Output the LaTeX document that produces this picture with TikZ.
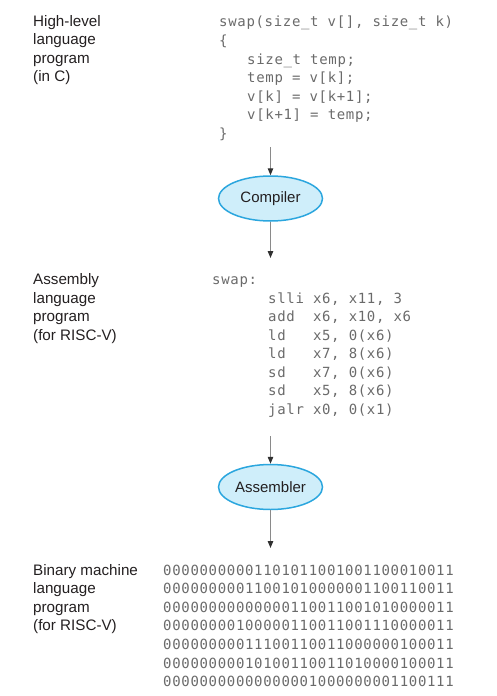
\documentclass[tikz,border=0pt]{standalone}
\usepackage{fontspec}
\setmainfont{Liberation Sans}
\newfontfamily\codefont[LetterSpace=4.8]{DejaVu Sans Mono}
\usetikzlibrary{arrows.meta,shapes.geometric}
\definecolor{inkdark}{HTML}{231F20}
\definecolor{codegray}{HTML}{6A6A6A}
\definecolor{shaftgray}{HTML}{8A8A8A}
\definecolor{tipgray}{HTML}{303030}
\definecolor{stagefill}{HTML}{CFEEFA}
\definecolor{stageline}{HTML}{2BA6DE}
\begin{document}
\begin{tikzpicture}[x=1pt,y=-1pt,
  lbl/.style={anchor=base west, inner sep=0pt, font=\fontsize{15.2}{18.6}\selectfont, text=inkdark},
  code/.style={anchor=base west, inner sep=0pt, font=\codefont\fontsize{14}{18.5}\selectfont, text=codegray},
  stage/.style={ellipse, draw=stageline, fill=stagefill, line width=1.5pt,
    minimum width=104pt, minimum height=45pt, inner sep=0pt,
    font=\fontsize{15}{18}\selectfont, text=inkdark},
  flow/.style={draw=shaftgray, line width=1.1pt,
    -{Triangle[length=7pt,width=5.5pt,color=tipgray]}}]
\useasboundingbox (0,0) rectangle (497,696);

% --- left-hand descriptions
\foreach \t [count=\i from 0] in {High-level,language,program,(in C)}
  \node[lbl] (hl\i) at (33,26+18.6*\i) {\t};
\foreach \t [count=\i from 0] in {Assembly,language,program,(for RISC-V)}
  \node[lbl] (al\i) at (33,284.5+18.6*\i) {\t};
\foreach \t [count=\i from 0] in {Binary machine,language,program,(for RISC-V)}
  \node[lbl] (bl\i) at (33,575+18.6*\i) {\t};

% --- C source
\foreach \t/\dx [count=\i from 0] in {
    {swap(size\_t v[], size\_t k)}/0,
    {\{}/0,
    {size\_t temp;}/28,
    {temp = v[k];}/28,
    {v[k] = v[k+1];}/28,
    {v[k+1] = temp;}/28,
    {\}}/0}
  \node[code] (c\i) at (219+\dx,27+18.5*\i) {\t};

% --- RISC-V assembly
\node[code] (swap) at (212,284.5) {swap:};
\foreach \t [count=\i from 1] in {
    {slli x6, x11, 3},
    {add~~x6, x10, x6},
    {ld~~~x5, 0(x6)},
    {ld~~~x7, 8(x6)},
    {sd~~~x7, 0(x6)},
    {sd~~~x5, 8(x6)},
    {jalr x0, 0(x1)}}
  \node[code] (a\i) at (268,284.5+18.5*\i) {\t};

% --- machine code
\foreach \t [count=\i from 0] in {
    00000000001101011001001100010011,
    00000000011001010000001100110011,
    00000000000000110011001010000011,
    00000000100000110011001110000011,
    00000000011100110011000000100011,
    00000000010100110011010000100011,
    00000000000000001000000001100111}
  \node[code] (b\i) at (163,575+18.6*\i) {\t};

% --- translation stages
\node[stage] (compiler) at (270.5,198.5) {Compiler};
\node[stage] (assembler) at (270.5,487) {Assembler};

\coordinate (cout) at (270.5,147);
\coordinate (ain) at (270.5,258);
\coordinate (aout) at (270.5,436);
\coordinate (bin) at (270.5,548);

\draw[flow] (cout) -- (compiler.north);
\draw[flow] (compiler.south) -- (ain);
\draw[flow] (aout) -- (assembler.north);
\draw[flow] (assembler.south) -- (bin);
\end{tikzpicture}
\end{document}
